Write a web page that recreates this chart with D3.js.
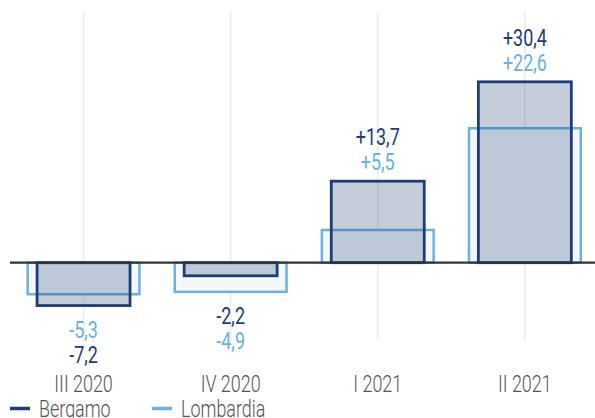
<!DOCTYPE html>
<html>
<head>
<meta charset="utf-8">
<script src="https://cdn.jsdelivr.net/npm/d3@7"></script>
<style>
html,body{margin:0;padding:0;background:#fff;}
svg{display:block;}
text{font-family:Roboto,"Noto Sans",sans-serif;}
</style>
</head>
<body>
<svg id="chart" width="595" height="418"></svg>
<script>
const categories = ["III 2020", "IV 2020", "I 2021", "II 2021"];
const bergamo = [-7.2, -2.2, 13.7, 30.4];
const lombardia = [-5.3, -4.9, 5.5, 22.6];
const seriesNames = ["Bergamo", "Lombardia"];
const labelsBergamo = ["-7,2", "-2,2", "+13,7", "+30,4"];
const labelsLombardia = ["-5,3", "-4,9", "+5,5", "+22,6"];

const navy = "#1f3c74";
const light = "#6cb1e2";
const SX = 0.78; // condensed look

const svg = d3.select("#chart");
const W = 595, H = 418;

const x = d3.scaleBand().domain(categories).range([10, 598.4]).padding(0);
const y = d3.scaleLinear().domain([-12, 34]).range([334.1, 60.4]);

// vertical gridlines
svg.append("g").selectAll("line").data(categories).join("line")
  .attr("x1", d => x(d) + x.bandwidth()/2)
  .attr("x2", d => x(d) + x.bandwidth()/2)
  .attr("y1", 12).attr("y2", 340)
  .attr("stroke", "#ececec").attr("stroke-width", 1.5);

const wL = x.bandwidth() * 0.76;
const wB = x.bandwidth() * 0.632;

// Lombardia bars
svg.append("g").selectAll("rect").data(categories).join("rect")
  .attr("x", d => x(d) + (x.bandwidth() - wL)/2)
  .attr("width", wL)
  .attr("y", (d,i) => Math.min(y(0), y(lombardia[i])))
  .attr("height", (d,i) => Math.abs(y(lombardia[i]) - y(0)))
  .attr("fill", "#f4f8fc")
  .attr("stroke", light).attr("stroke-width", 2.5);

// Bergamo bars
svg.append("g").selectAll("rect").data(categories).join("rect")
  .attr("x", d => x(d) + (x.bandwidth() - wB)/2)
  .attr("width", wB)
  .attr("y", (d,i) => Math.min(y(0), y(bergamo[i])))
  .attr("height", (d,i) => Math.abs(y(bergamo[i]) - y(0)))
  .attr("fill", navy).attr("fill-opacity", 0.26)
  .attr("stroke", navy).attr("stroke-width", 2.8);

// zero line
svg.append("line")
  .attr("x1", 10).attr("x2", W)
  .attr("y1", y(0)).attr("y2", y(0))
  .attr("stroke", "#333").attr("stroke-width", 2.2);

function addText(g, tx, ty, txt, col, anchor, weight) {
  g.append("text")
    .attr("transform", `translate(${tx},${ty}) scale(${SX},1)`)
    .attr("text-anchor", anchor)
    .attr("font-size", 23)
    .attr("font-weight", weight)
    .attr("fill", col)
    .text(txt);
}

// value labels
const lab = svg.append("g");
categories.forEach((c, i) => {
  const cx = x(c) + x.bandwidth()/2;
  const items = [
    {v: bergamo[i], t: labelsBergamo[i], col: navy},
    {v: lombardia[i], t: labelsLombardia[i], col: light}
  ].sort((a,b) => b.v - a.v);
  if (bergamo[i] >= 0) {
    const top = y(d3.max(items, d => d.v));
    items.forEach((it, k) => addText(lab, cx, top - 11 - (1-k)*25, it.t, it.col, "middle", 400));
  } else {
    const bot = y(d3.min(items, d => d.v));
    items.forEach((it, k) => addText(lab, cx, bot + 32 + k*25, it.t, it.col, "middle", 400));
  }
});

// category axis labels
const ax = svg.append("g");
categories.forEach(c => addText(ax, x(c) + x.bandwidth()/2, 391.5, c, "#555", "middle", 300));

// legend
const legendColors = [navy, light];
const legendX = [10, 152];
const lg = svg.append("g");
seriesNames.forEach((s, i) => {
  lg.append("line").attr("x1", legendX[i]).attr("x2", legendX[i] + 20)
    .attr("y1", 408.5).attr("y2", 408.5)
    .attr("stroke", legendColors[i]).attr("stroke-width", 3.5);
  addText(lg, legendX[i] + 29, 417, s, "#555", "start", 300);
});
</script>
</body>
</html>
